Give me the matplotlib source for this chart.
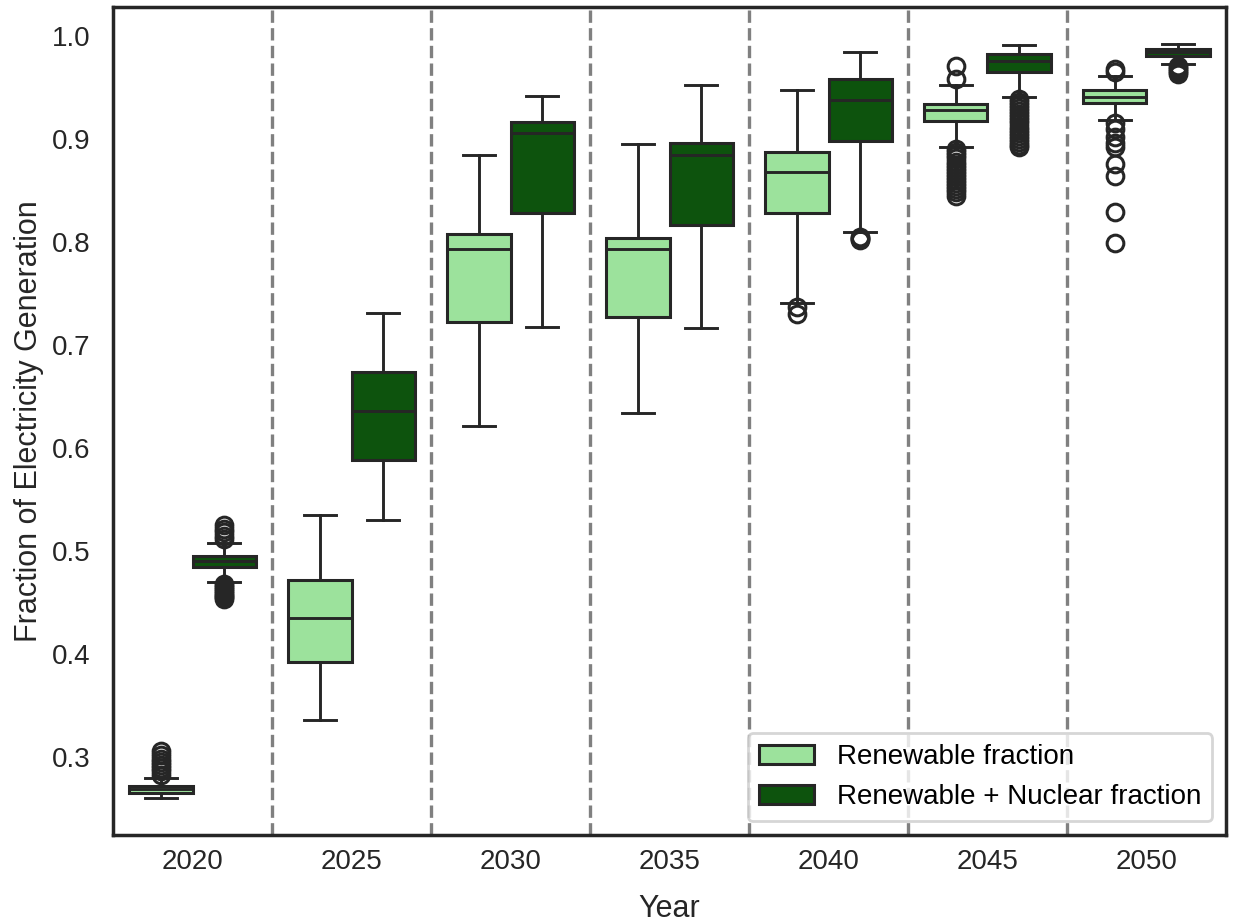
import matplotlib
matplotlib.use("Agg")
import matplotlib.pyplot as plt
from matplotlib.patches import Patch

years = [2020, 2025, 2030, 2035, 2040, 2045, 2050]
series_names = ["Renewable fraction", "Renewable + Nuclear fraction"]

# Renewable fraction: box-plot summary per year
ren_q1 = [0.265, 0.392, 0.722, 0.727, 0.828, 0.917, 0.935]
ren_med = [0.269, 0.435, 0.793, 0.793, 0.868, 0.928, 0.941]
ren_q3 = [0.272, 0.472, 0.808, 0.804, 0.887, 0.934, 0.947]
ren_lo = [0.260, 0.336, 0.621, 0.634, 0.741, 0.892, 0.918]
ren_hi = [0.280, 0.535, 0.884, 0.895, 0.947, 0.952, 0.961]
ren_fliers = [
    [0.283, 0.286, 0.289, 0.292, 0.295, 0.298, 0.302, 0.306],
    [],
    [],
    [],
    [0.737, 0.730],
    [0.958, 0.971, 0.890, 0.887, 0.884, 0.881, 0.878, 0.875, 0.872, 0.869,
     0.866, 0.863, 0.860, 0.857, 0.854, 0.851, 0.848, 0.845],
    [0.965, 0.968, 0.915, 0.910, 0.902, 0.896, 0.892, 0.876, 0.864, 0.829, 0.799],
]

# Renewable + nuclear fraction: box-plot summary per year
nuc_q1 = [0.4845, 0.588, 0.828, 0.816, 0.898, 0.965, 0.980]
nuc_med = [0.490, 0.636, 0.906, 0.884, 0.938, 0.976, 0.984]
nuc_q3 = [0.495, 0.674, 0.916, 0.896, 0.958, 0.982, 0.987]
nuc_lo = [0.470, 0.530, 0.717, 0.716, 0.810, 0.941, 0.9725]
nuc_hi = [0.508, 0.731, 0.942, 0.952, 0.984, 0.991, 0.992]
nuc_fliers = [
    [0.512, 0.515, 0.518, 0.521, 0.525,
     0.468, 0.466, 0.464, 0.462, 0.460, 0.458, 0.456, 0.455, 0.453],
    [],
    [],
    [],
    [0.805, 0.804, 0.803, 0.802],
    [0.939, 0.936, 0.933, 0.930, 0.927, 0.924, 0.921, 0.918, 0.915, 0.912,
     0.909, 0.906, 0.903, 0.900, 0.897, 0.894, 0.892],
    [0.971, 0.969, 0.967, 0.965, 0.963],
]

light = "#9ce29c"
dark = "#0d530d"
edge = "#262626"

plt.rcParams["font.family"] = ["Liberation Sans", "DejaVu Sans"]

fig = plt.figure(figsize=(6.165, 4.62), dpi=200)
ax = fig.add_axes([0.0917, 0.0963, 0.9026, 0.8961])


def stats(q1, med, q3, lo, hi, fl):
    return [dict(q1=a, med=b, q3=c, whislo=d, whishi=e, fliers=f)
            for a, b, c, d, e, f in zip(q1, med, q3, lo, hi, fl)]


box_w = 0.4
line_kw = dict(color=edge, linewidth=1.05)
for offset, st, col in [
    (-0.2, stats(ren_q1, ren_med, ren_q3, ren_lo, ren_hi, ren_fliers), light),
    (0.2, stats(nuc_q1, nuc_med, nuc_q3, nuc_lo, nuc_hi, nuc_fliers), dark),
]:
    pos = [i + offset for i in range(len(years))]
    ax.bxp(st, positions=pos, widths=box_w, patch_artist=True,
           showfliers=True, manage_ticks=False,
           boxprops=dict(facecolor=col, edgecolor=edge, linewidth=1.1),
           medianprops=line_kw, whiskerprops=line_kw, capprops=line_kw,
           capwidths=box_w / 2,
           flierprops=dict(marker="o", markersize=6, markerfacecolor="none",
                           markeredgecolor=edge, markeredgewidth=1.1,
                           linestyle="none"))

for i in range(len(years) - 1):
    ax.axvline(i + 0.5, color="gray", linestyle="--", linewidth=1.2, zorder=0)

ax.set_xlim(-0.5, len(years) - 0.5)
ax.set_ylim(0.2243, 1.028)
ax.set_xticks(range(len(years)))
ax.set_xticklabels([str(y) for y in years])
ax.set_yticks([0.3, 0.4, 0.5, 0.6, 0.7, 0.8, 0.9, 1.0])
ax.set_yticklabels(["0.3", "0.4", "0.5", "0.6", "0.7", "0.8", "0.9", "1.0"])
ax.tick_params(axis="both", length=0, labelsize=10, colors="#262626")
ax.tick_params(axis="x", pad=5)
ax.tick_params(axis="y", pad=8)
for s in ax.spines.values():
    s.set_color("#262626")
    s.set_linewidth(1.25)

ax.set_xlabel("Year", fontsize=11, color="#262626", labelpad=7)
ax.set_ylabel("Fraction of Electricity Generation", fontsize=11,
              color="#262626", labelpad=3)

handles = [Patch(facecolor=light, edgecolor=edge, linewidth=1.1),
           Patch(facecolor=dark, edgecolor=edge, linewidth=1.1)]
ax.legend(handles, series_names, loc="lower right", fontsize=10,
          frameon=True, framealpha=0.8, edgecolor="#cccccc")

fig.savefig("out.png", dpi=200)
